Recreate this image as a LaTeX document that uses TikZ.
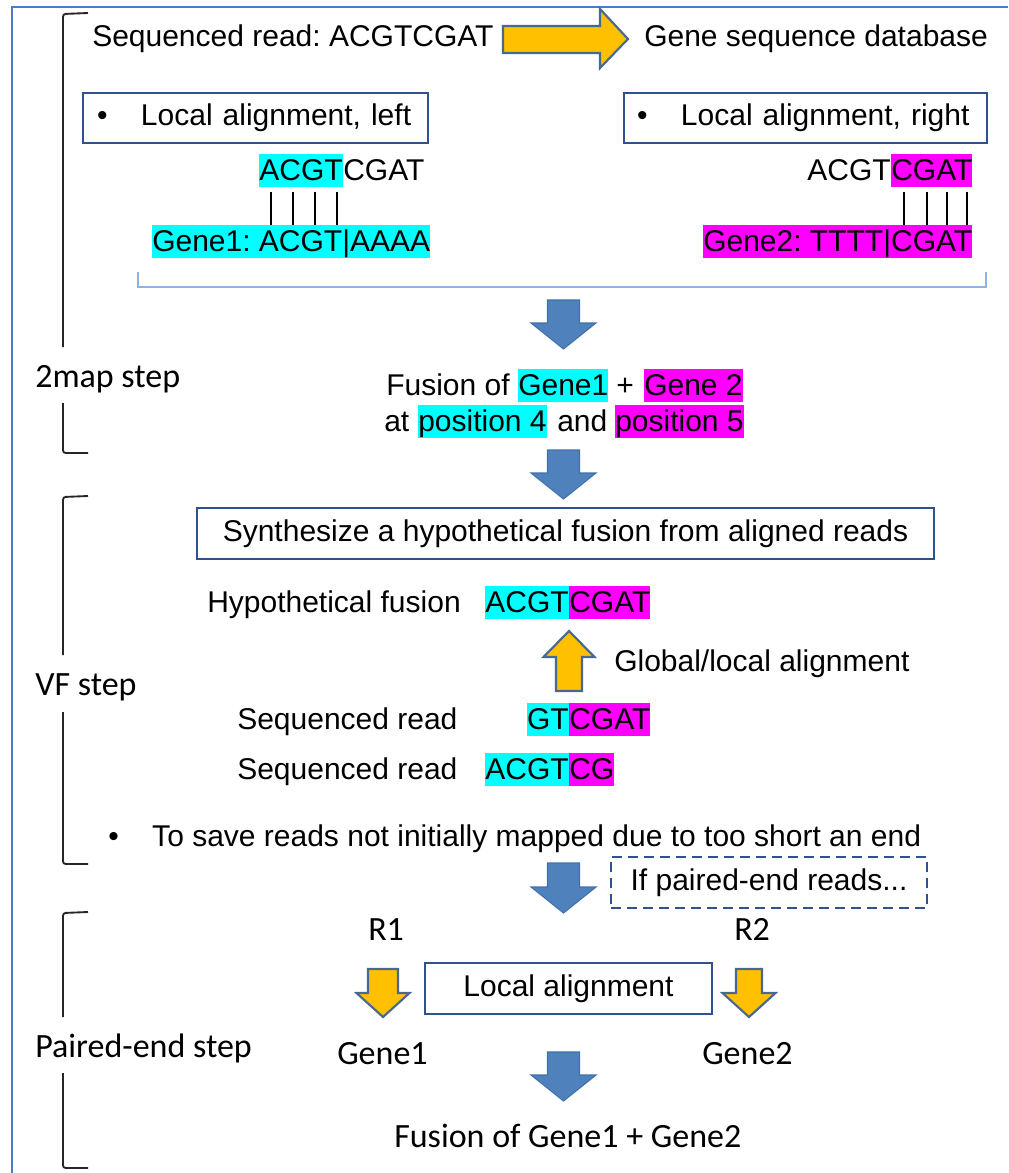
\documentclass[tikz,border=0pt]{standalone}
\usepackage{fontspec}
\setmainfont{Liberation Sans}
\newfontfamily\calfont{Carlito}
\frenchspacing
\definecolor{frameblue}{RGB}{74,124,199}
\definecolor{boxblue}{RGB}{47,82,143}
\definecolor{lightbr}{RGB}{141,179,226}
\definecolor{arrblue}{RGB}{79,129,189}
\definecolor{arrblueline}{RGB}{65,113,170}
\definecolor{arryellow}{RGB}{255,192,0}
\definecolor{arryline}{RGB}{72,104,148}
\definecolor{hcyan}{RGB}{0,255,255}
\definecolor{hmag}{RGB}{255,0,255}
\newcommand\blockarrow[7]{%
  \draw[#1] (#2-#3,#5) -- (#2+#3,#5) -- (#2+#3,#6) -- (#2+#4,#6) -- (#2,#7)
    -- (#2-#4,#6) -- (#2-#3,#6) -- cycle;}
\begin{document}
\begin{tikzpicture}[x=0.75pt,y=-0.75pt,
  fa/.style={font=\fontsize{22.5pt}{27pt}\selectfont},
  ar/.style={fa, inner sep=0pt, anchor=base west},
  cb/.style={font=\calfont\fontsize{25.5pt}{30pt}\selectfont, inner sep=0pt, anchor=base west},
  hl/.style={ar, text height=20.25pt, text depth=4.8pt},
  cy/.style={hl, fill=hcyan},
  mg/.style={hl, fill=hmag},
  box/.style={fa, draw=boxblue, line width=1.5pt, inner sep=0pt},
  brk/.style={line width=1.4pt, black!85, rounded corners=2pt},
  bar/.style={line width=1.8pt, black},
  bluearr/.style={fill=arrblue, draw=arrblueline, line width=0.8pt, line join=miter},
  yelarr/.style={fill=arryellow, draw=arryline, line width=1.6pt, line join=miter},
]
\useasboundingbox (0,0) rectangle (1008,1173);
\fill[white] (0,0) rectangle (1008,1173);
% outer frame
\draw[frameblue, line width=1.5pt] (1008,7) -- (12,7) -- (12,1173);

% left brackets
\draw[brk] (88,13) -- (63,14) -- (63,347);
\draw[brk] (63,403) -- (63,453) -- (88,453);
\node[cb] (lab2map) at (35,387) {2map step};
\draw[brk] (88,496) -- (63,497) -- (63,655);
\draw[brk] (63,712) -- (63,864) -- (88,864);
\node[cb] (labvf) at (35,695) {VF step};
\draw[brk] (88,912) -- (63,913) -- (63,1017);
\draw[brk] (63,1073) -- (63,1168) -- (88,1168);
\node[cb] (labpe) at (35,1057) {Paired-end step};

% top row
\node[ar] (seq) at (92,47) {Sequenced read: ACGTCGAT};
\draw[yelarr] (503,26) -- (600,26) -- (600,9) -- (628,39) -- (600,68) -- (600,53) -- (503,53) -- cycle;
\node[ar] (db) at (644,47) {Gene sequence database};

% local alignment boxes
\node[box, minimum width=258.75pt, minimum height=37.5pt, inner xsep=10.5pt,
      text width=237.75pt, align=left] (boxl) at (255.5,118)
      {\makebox[33pt][l]{\textbullet}Local alignment, left};
\node[box, minimum width=272.25pt, minimum height=37.5pt, inner xsep=9.75pt,
      text width=252.75pt, align=left] (boxr) at (805.5,118)
      {\makebox[33pt][l]{\textbullet}Local alignment, right};

% left alignment
\node[cy, anchor=base east] (la1) at (343,181) {ACGT};
\node[ar] (la2) at (343,181) {CGAT};
\foreach \bx in {271,293,315,337} \draw[bar] (\bx,192) -- (\bx,227);
\node[cy] (gene1) at (152,251.6) {Gene1: ACGT|AAAA};

% right alignment
\node[ar, anchor=base east] (ra1) at (891,181) {ACGT};
\node[mg] (ra2) at (891,181) {CGAT};
\foreach \bx in {904,927,947,967} \draw[bar] (\bx,192) -- (\bx,227);
\node[mg] (gene2) at (703,251.6) {Gene2: TTTT|CGAT};

\draw[lightbr, line width=1.5pt] (138,272) -- (138,287) -- (986,287) -- (986,272);

% arrow 1
\blockarrow{bluearr}{563.5}{16}{32.5}{300}{323}{349}

% fusion text
\node[ar] (fa) at (386,395.6) {Fusion of};
\node[cy] (fg1) at (518,395.6) {Gene1};
\node[ar] (fplus) at (616,395.6) {+};
\node[mg] (fg2) at (644,395.6) {Gene 2};
\node[ar] (fat) at (384,431.6) {at};
\node[cy] (fp4) at (418,431.6) {position 4};
\node[ar] (fand) at (557,431.6) {and};
\node[mg] (fp5) at (615,431.6) {position 5};

% arrow 2
\blockarrow{bluearr}{563.5}{16}{32.5}{450}{473}{499}

% VF step
\node[box, minimum width=552.75pt, minimum height=38.25pt] (synth) at (565.5,533.5)
  {Synthesize a hypothetical fusion from aligned reads};
\node[ar] (hyp) at (207,612.6) {Hypothetical fusion};
\node[cy, anchor=base east] (hf1) at (569,612.6) {ACGT};
\node[mg] (hf2) at (569,612.6) {CGAT};
\blockarrow{yelarr}{569}{13}{25.5}{691}{657}{631}
\node[ar] (glob) at (614,671) {Global/local alignment};
\node[ar] (sr1) at (237,729.6) {Sequenced read};
\node[cy, anchor=base east] (s1a) at (569,729.6) {GT};
\node[mg] (s1b) at (569,729.6) {CGAT};
\node[ar] (sr2) at (237,779.6) {Sequenced read};
\node[cy, anchor=base east] (s2a) at (569,779.6) {ACGT};
\node[mg] (s2b) at (569,779.6) {CG};
\node[ar] (save) at (108,846) {\makebox[33pt][l]{\textbullet}To save reads not initially mapped due to too short an end};

% arrow 3 and paired-end
\blockarrow{bluearr}{563.5}{16}{32.5}{863}{887}{913}
\node[box, dashed, dash pattern=on 7.5pt off 4.5pt, minimum width=237pt, minimum height=38.25pt]
  (ifpe) at (769,882.5) {If paired-end reads...};

\node[cb] (r1) at (368,940) {R1};
\node[cb] (r2) at (734,940) {R2};
\blockarrow{yelarr}{383}{15}{26.5}{969}{993}{1017}
\blockarrow{yelarr}{749}{13}{26.5}{969}{993}{1017}
\node[box, minimum width=215.25pt, minimum height=38.25pt] (locbox) at (568.5,988.5) {Local alignment};
\node[cb] (pg1) at (337,1064) {Gene1};
\node[cb] (pg2) at (702,1064) {Gene2};
\blockarrow{bluearr}{563.5}{16}{32.5}{1052}{1075}{1101}
\node[cb] (fus) at (394,1147) {Fusion of Gene1 + Gene2};
\end{tikzpicture}
\end{document}
